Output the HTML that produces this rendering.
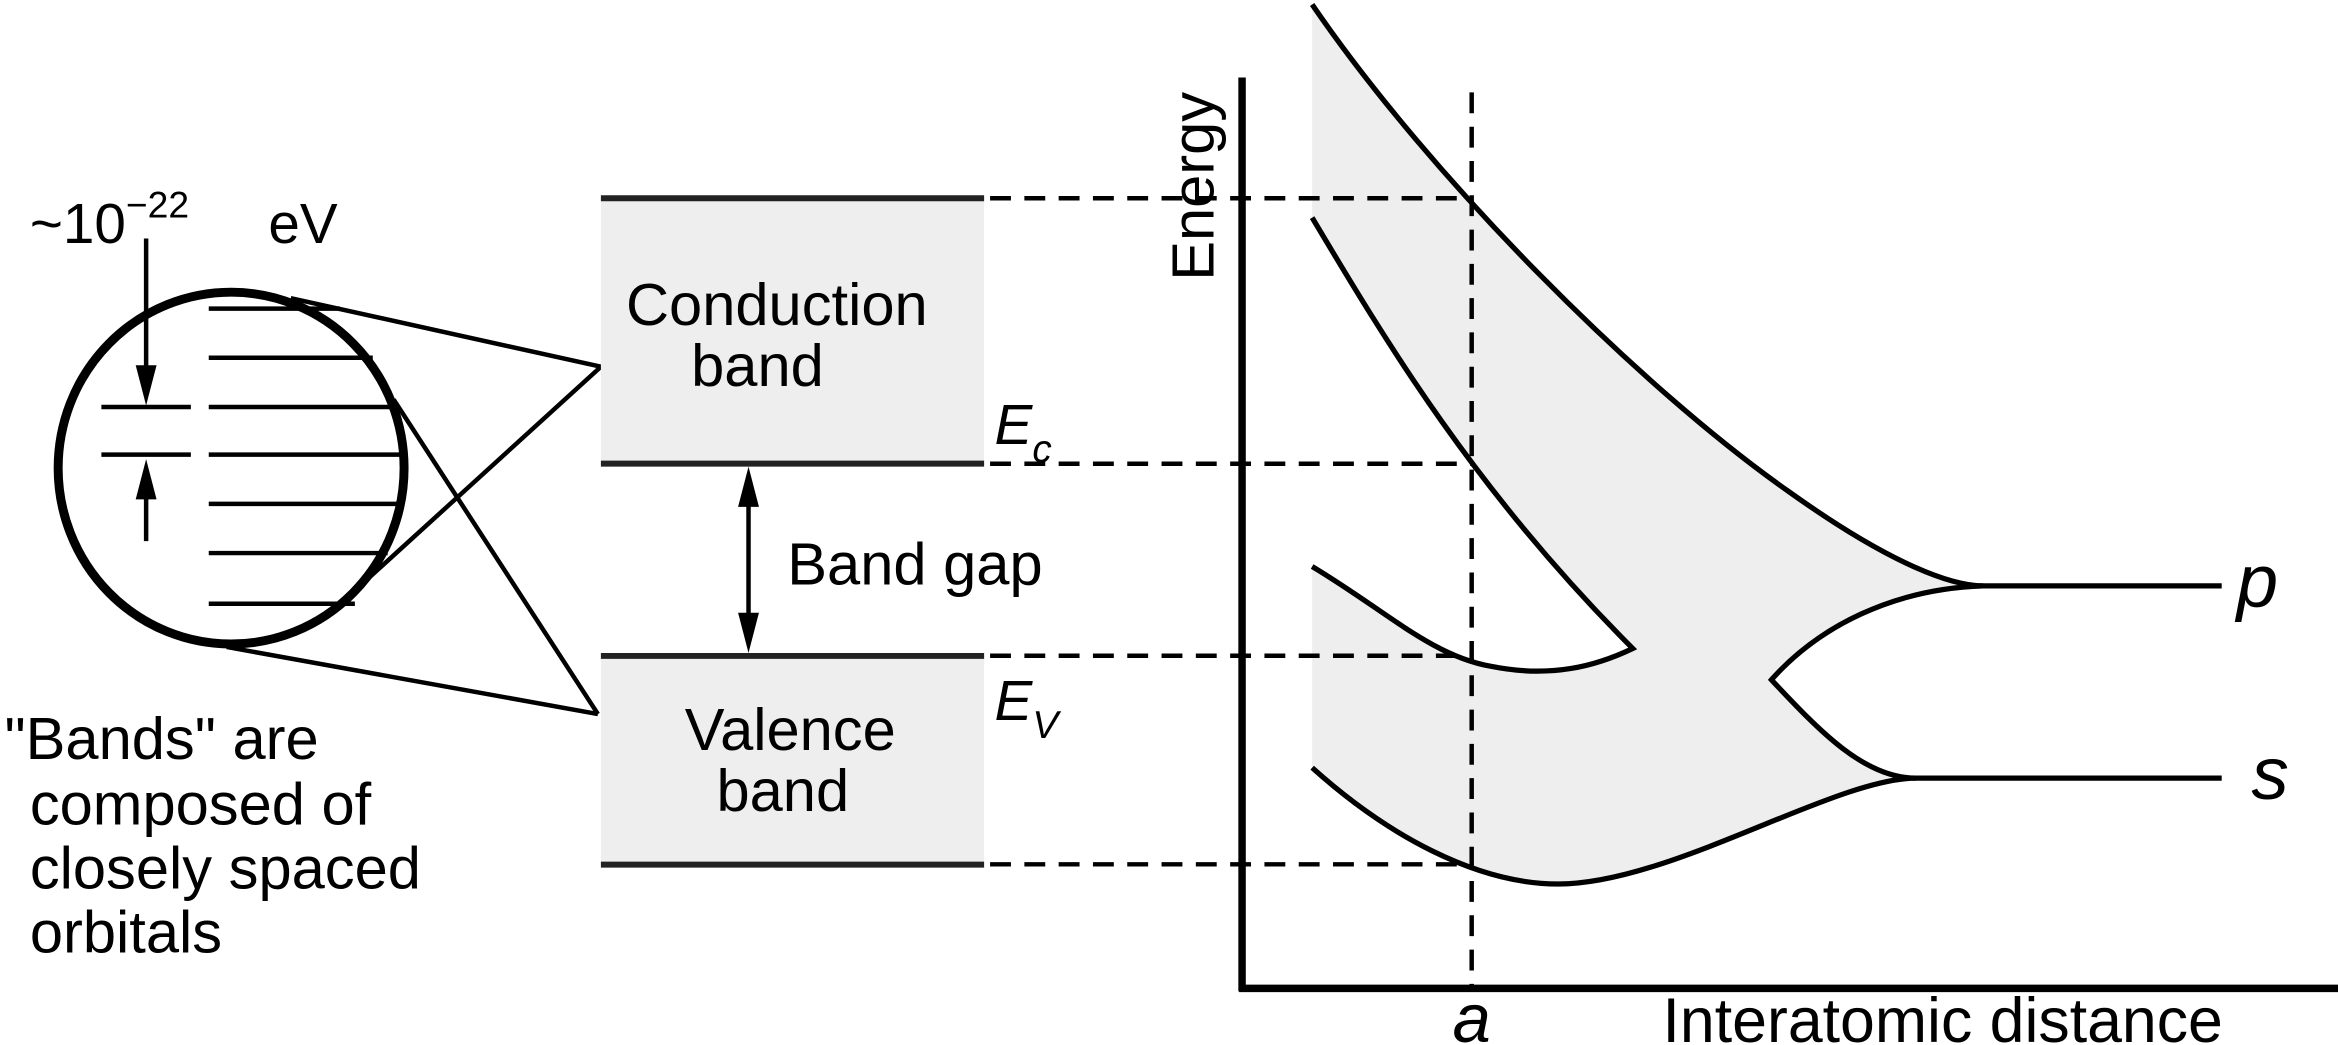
<!DOCTYPE html>
<html><head><meta charset="utf-8"><style>
html,body{margin:0;padding:0;background:#fff;}
svg{display:block;font-family:"Liberation Sans",sans-serif;}
</style></head><body>
<svg id="chart" width="2338" height="1045" viewBox="0 0 1568 701" preserveAspectRatio="none" xmlns="http://www.w3.org/2000/svg">
<g stroke="#000" fill="none">
<line x1="195" y1="200" x2="403" y2="246" stroke-width="3"/>
<line x1="403" y1="246" x2="236" y2="398" stroke-width="3"/>
<line x1="264" y1="268" x2="401" y2="479" stroke-width="3"/>
<line x1="152" y1="434" x2="401" y2="479" stroke-width="3"/>
<ellipse cx="155" cy="314" rx="116" ry="118" stroke-width="6" fill="#fff"/>
<g stroke-width="3">
<line x1="140" y1="207" x2="228" y2="207"/>
<line x1="140" y1="240" x2="250" y2="240"/>
<line x1="140" y1="273" x2="265" y2="273"/>
<line x1="140" y1="305" x2="270" y2="305"/>
<line x1="140" y1="338" x2="269" y2="338"/>
<line x1="140" y1="371" x2="260" y2="371"/>
<line x1="140" y1="405" x2="238" y2="405"/>
<line x1="68" y1="273" x2="128" y2="273"/>
<line x1="68" y1="305" x2="128" y2="305"/>
<line x1="98" y1="160" x2="98" y2="262"/>
<line x1="98" y1="318" x2="98" y2="363"/>
</g>
<polygon points="91,245 105,245 98,272" fill="#000" stroke="none"/>
<polygon points="91,335 105,335 98,308" fill="#000" stroke="none"/>
</g>
<text x="20" y="163" font-size="38">~10<tspan font-size="25" dy="-17">−22</tspan></text>
<text x="180" y="163" font-size="38">eV</text>
<g font-size="40">
<text x="3" y="509">"Bands" are</text>
<text x="20" y="553">composed of</text>
<text x="20" y="596">closely spaced</text>
<text x="20" y="639">orbitals</text>
</g>
<g>
<rect x="403" y="133" width="257" height="178" fill="#eee"/>
<line x1="403" y1="133" x2="660" y2="133" stroke="#222" stroke-width="4"/>
<line x1="403" y1="311" x2="660" y2="311" stroke="#222" stroke-width="4"/>
<text x="521" y="218" font-size="40" text-anchor="middle">Conduction</text>
<text x="508" y="259" font-size="40" text-anchor="middle">band</text>
</g>
<g>
<rect x="403" y="440" width="257" height="140" fill="#eee"/>
<line x1="403" y1="440" x2="660" y2="440" stroke="#222" stroke-width="4"/>
<line x1="403" y1="580" x2="660" y2="580" stroke="#222" stroke-width="4"/>
<text x="530" y="503" font-size="40" text-anchor="middle">Valence</text>
<text x="525" y="544" font-size="40" text-anchor="middle">band</text>
</g>
<g>
<line x1="502" y1="330" x2="502" y2="420" stroke="#000" stroke-width="3"/>
<polygon points="495,340 509,340 502,313" fill="#000"/>
<polygon points="495,411 509,411 502,438" fill="#000"/>
<text x="528" y="392" font-size="40">Band gap</text>
</g>
<text x="667" y="298" font-size="38" font-style="italic">E<tspan font-size="26" dy="12">c</tspan></text>
<text x="667" y="483" font-size="38" font-style="italic">E<tspan font-size="26" dy="12">V</tspan></text>
<path fill="#eee" fill-rule="evenodd" d="M880,3 C960,120 1100,260 1200,330 C1270,380 1310,393 1330,393 C1270,395 1220,420 1188,456 C1220,490 1250,522 1285,522 C1230,522 1120,593 1045,593 C990,593 930,560 880,515 Z M880,146 C930,230 990,330 1095,435 C1070,447 1040,455 1000,447 C960,440 930,410 880,380 Z"/>
<g id="dashes" stroke="#000" stroke-width="3" stroke-dasharray="14,9" fill="none"></g>
<g fill="none" stroke="#000" stroke-width="3.5">
<path d="M880,3 C960,120 1100,260 1200,330 C1270,380 1310,393 1330,393 L1490,393"/>
<path d="M880,146 C930,230 990,330 1095,435 C1070,447 1040,455 1000,447 C960,440 930,410 880,380"/>
<path d="M1330,393 C1270,395 1220,420 1188,456 C1220,490 1250,522 1285,522 L1490,522"/>
<path d="M880,515 C930,560 990,593 1045,593 C1120,593 1230,522 1285,522"/>
</g>
<g stroke="#000" stroke-width="5">
<line x1="833" y1="52" x2="833" y2="665"/>
<line x1="831" y1="663" x2="1568" y2="663"/>
</g>
<text transform="translate(814,125) rotate(-90)" font-size="40" text-anchor="middle">Energy</text>
<text x="1115" y="699" font-size="42">Interatomic distance</text>
<text x="987" y="699" font-size="46" font-style="italic" text-anchor="middle">a</text>
<text x="1500" y="407" font-size="50" font-style="italic">p</text>
<text x="1510" y="536" font-size="50" font-style="italic">s</text>
</svg>
<script>
// band edge energies (arbitrary units)
const levelNames = ['conduction-top','conduction-bottom','valence-top','valence-bottom'];
const levelValues = [10.0, 6.64, 4.21, 1.57];
const latticeA = [1.0];
function yScale(e){ return 663 - e * 53; }
function xScale(d){ return 987 * d; }
const g = document.getElementById('dashes');
const ns = 'http://www.w3.org/2000/svg';
levelValues.forEach(function(v, i){
  const l = document.createElementNS(ns, 'line');
  
  
  l.setAttribute('x1', 664); l.setAttribute('x2', xScale(latticeA[0]));
  l.setAttribute('y1', yScale(v)); l.setAttribute('y2', yScale(v));
  g.appendChild(l);
});
const va = document.createElementNS(ns, 'line');


va.setAttribute('x1', xScale(latticeA[0])); va.setAttribute('x2', xScale(latticeA[0]));
va.setAttribute('y1', 62); va.setAttribute('y2', 663);
g.appendChild(va);
</script>
</body></html>
